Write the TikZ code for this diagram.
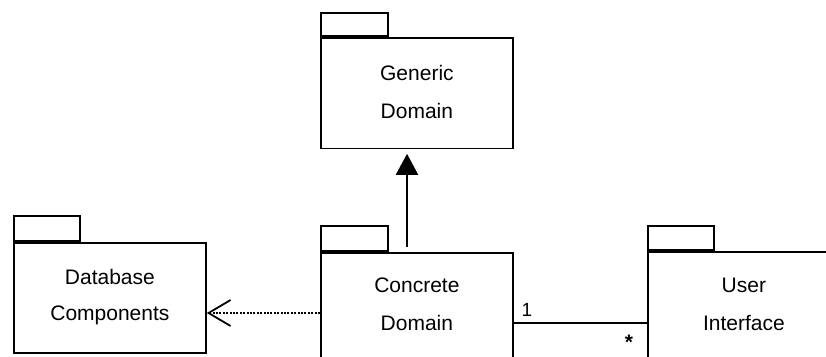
\documentclass[tikz,border=0pt]{standalone}
\usepackage{fontspec}
\setmainfont{Liberation Sans}
\usetikzlibrary{arrows.meta}
\begin{document}
\begin{tikzpicture}[x=1pt,y=-1pt,
  pkgline/.style={draw=black,line width=1.8pt},
  pkgbody/.style={pkgline,rectangle,inner sep=0pt,anchor=north west,
    minimum width=192pt,minimum height=110pt},
  pkgtab/.style={pkgline,rectangle,inner sep=0pt,anchor=south west,
    minimum width=67pt,minimum height=23.5pt},
  pkgtext/.style={inner sep=0pt,anchor=base,font=\fontsize{21}{24}\selectfont},
  multlabel/.style={inner sep=0pt,font=\fontsize{19}{22}\selectfont},
  genarrow/.style={line width=2pt,-{Triangle[length=21pt,width=22pt]},
    shorten >=4.5pt,shorten <=5pt},
  deparrow/.style={line width=2pt,dash pattern=on 2pt off 1.4pt,
    -{Straight Barb[length=22pt,width=26pt,line width=1.8pt,sep=0pt]}},
  assocline/.style={line width=1.8pt}]
\useasboundingbox (0,0) rectangle (826,356);
\clip (0,0) rectangle (826,356);

% Generic Domain package
\node[pkgbody,minimum height=110.5pt] (gdbody) at (320,37) {};
\node[pkgtab] (gdtab) at (gdbody.north west) {};
\node[pkgtext] (gdline1) at ([yshift=-43pt]gdbody.north) {Generic};
\node[pkgtext] (gdline2) at ([yshift=-81pt]gdbody.north) {Domain};

% Database Components package
\node[pkgbody] (dbbody) at (13,242) {};
\node[pkgtab,minimum width=66pt,minimum height=25pt] (dbtab) at (dbbody.north west) {};
\node[pkgtext] (dbline1) at ([yshift=-42pt]dbbody.north) {Database};
\node[pkgtext] (dbline2) at ([yshift=-78pt]dbbody.north) {Components};

% Concrete Domain package
\node[pkgbody] (cdbody) at (320,252) {};
\node[pkgtab,minimum height=25pt] (cdtab) at (cdbody.north west) {};
\node[pkgtext] (cdline1) at ([yshift=-40pt]cdbody.north) {Concrete};
\node[pkgtext] (cdline2) at ([yshift=-78pt]cdbody.north) {Domain};

% User Interface package
\node[pkgbody] (uibody) at (647,251) {};
\node[pkgtab,minimum width=66pt,minimum height=24pt] (uitab) at (uibody.north west) {};
\node[pkgtext] (uiline1) at ([yshift=-41pt]uibody.north) {User};
\node[pkgtext] (uiline2) at ([yshift=-79pt]uibody.north) {Interface};

% Generalization: Concrete Domain -> Generic Domain
\draw[genarrow] ([xshift=87pt]cdbody.north west) -- ([xshift=87pt]gdbody.south west);

% Dependency: Concrete Domain -> Database Components
\draw[deparrow] ([yshift=-61pt]cdbody.north west) -- ([yshift=-71pt]dbbody.north east);

% Association: Concrete Domain -- User Interface
\coordinate (assocA) at ([yshift=-71pt]cdbody.north east);
\coordinate (assocB) at ([yshift=-72pt]uibody.north west);
\draw[assocline] (assocA) -- (assocB);
\node[multlabel] (multone) at ([xshift=13pt,yshift=13pt]assocA) {1};
\node[multlabel,font=\fontsize{21}{22}\selectfont\bfseries] (multmany) at ([xshift=-18pt,yshift=-19pt]assocB) {*};
\end{tikzpicture}
\end{document}
